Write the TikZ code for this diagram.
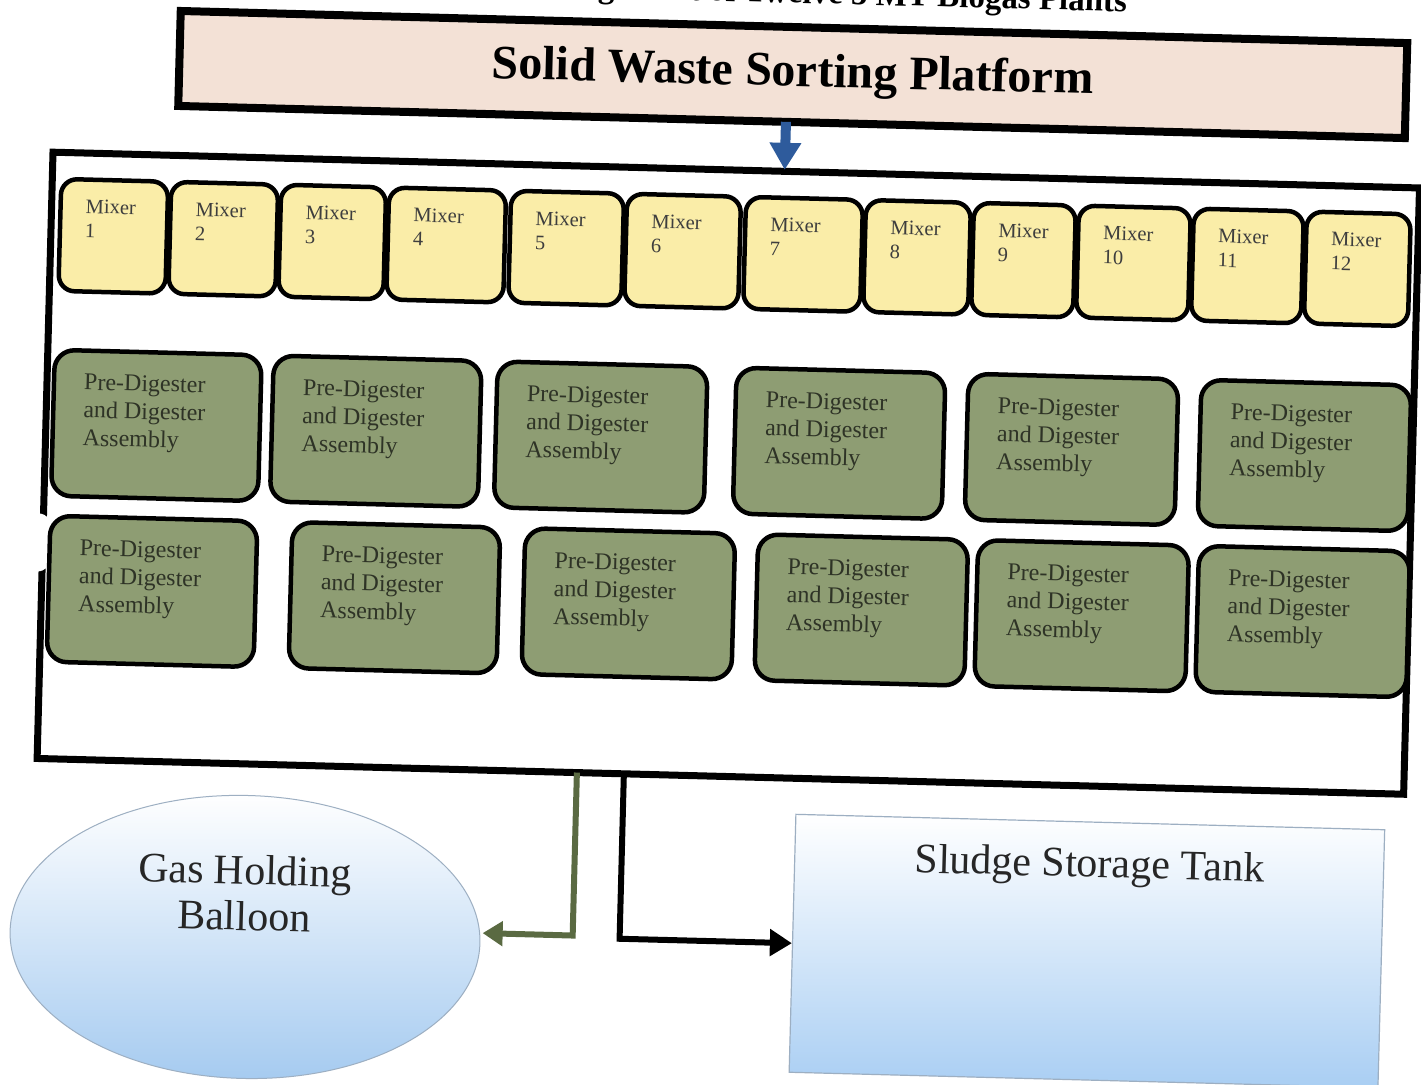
\documentclass[tikz,border=0pt]{standalone}
\usepackage{fontspec}
\setmainfont{Liberation Serif}
\usetikzlibrary{arrows.meta,shapes.geometric}
\definecolor{platfill}{HTML}{F3E1D6}
\definecolor{mixfill}{HTML}{FAEDA8}
\definecolor{mixtext}{HTML}{3E3E3E}
\definecolor{pdfill}{HTML}{8E9D73}
\definecolor{pdtext}{HTML}{2E3326}
\definecolor{arrblue}{HTML}{2E5B9C}
\definecolor{arrgreen}{HTML}{5A6A42}
\definecolor{ballblue}{HTML}{A6CBF0}
\definecolor{ballmid}{HTML}{E4EEF8}
\definecolor{tankblue}{HTML}{A9CEF3}
\definecolor{edgegray}{HTML}{9DAFC2}
\begin{document}
\begin{tikzpicture}[x=1pt,y=-1pt,
  frame/.style={draw=black, line width=7pt, inner sep=0pt},
  platform/.style={draw=black, line width=8pt, fill=platfill, inner sep=0pt,
    font=\fontsize{48}{56}\selectfont\bfseries},
  mixer/.style={draw=black, line width=4.5pt, fill=mixfill, rounded corners=16pt, inner sep=0pt},
  mixtxt/.style={font=\fontsize{20.5}{24}\selectfont, text=mixtext, align=left, anchor=north west, inner sep=0pt},
  pdbox/.style={draw=black, line width=4.5pt, fill=pdfill, rounded corners=20pt, inner sep=0pt},
  pdtxt/.style={font=\fontsize{24}{28}\selectfont, text=pdtext, align=left, anchor=north west, inner sep=0pt},
  bigtxt/.style={font=\fontsize{42}{46}\selectfont, text=black!85, align=center, inner sep=0pt},
  bluearr/.style={draw=arrblue, line width=10pt, -{Triangle[width=30pt,length=27pt]}},
  greenarr/.style={draw=arrgreen, line width=6pt, line join=miter, -{Triangle[width=24pt,length=20pt]}},
  blackarr/.style={draw=black, line width=6pt, line join=miter, -{Triangle[width=26pt,length=22pt]}}
]
\useasboundingbox (0,0) rectangle (1421,1084);
\clip (0,0) rectangle (1421,1084);
\fill[white] (0,0) rectangle (1421,1084);
\begin{scope}[rotate around={-1.5:(710,542)}, transform shape]
  % page title (cut off at the top)
  \node[font=\fontsize{33}{40}\selectfont\bfseries, anchor=base east, inner sep=0pt] (ttl) at (1113,1)
    {Arrangement of Twelve 5 MT Biogas Plants};
  % platform
  \node[platform, minimum width=1227, minimum height=95] (plat) at (780.5,72.5) {Solid Waste Sorting Platform};
  % container
  \node[frame, minimum width=1367, minimum height=606.5] (cont) at (726.5,472.75) {};
  \fill[white, rounded corners=14pt] (12,531) rectangle (52,589);
  % arrow platform -> container
  \coordinate (a1) at (775,120);
  \coordinate (a2) at (775,168);
  \draw[bluearr] (a1) -- (a2);
  % mixers
  \foreach \i/\l/\r in {1/52/159, 2/162/269, 3/272/377, 4/380/497, 5/502/615, 6/618/732,
                        7/737/854, 8/857/962, 9/965/1067, 10/1070/1182, 11/1185/1295, 12/1298/1402}{
    \node[mixer, minimum width={\r-\l}, minimum height=112] (m\i) at ({(\l+\r)/2},252) {};
    \node[mixtxt] (mt\i) at (\l+25,216) {Mixer\\\i};
  }
  % pre-digester and digester assemblies, row 1
  \foreach \i/\l/\r in {1/50/257, 2/269/477, 3/493/703, 4/732/941, 5/964/1174, 6/1197/1407}{
    \node[pdbox, minimum width={\r-\l}, minimum height=146] (pa\i) at ({(\l+\r)/2},440) {};
    \node[pdtxt] (pat\i) at (\l+30,390) {Pre-Digester\\and Digester\\Assembly};
  }
  % row 2
  \foreach \i/\l/\r in {1/50/257, 2/292/500, 3/525/735, 4/758/968, 5/978/1189, 6/1199/1410}{
    \node[pdbox, minimum width={\r-\l}, minimum height=146] (pb\i) at ({(\l+\r)/2},606) {};
    \node[pdtxt] (pbt\i) at (\l+30,556) {Pre-Digester\\and Digester\\Assembly};
  }
  % gas holding balloon
  \node[ellipse, draw=edgegray, line width=1pt, minimum width=470, minimum height=283, inner sep=0pt,
        top color=white, middle color=ballmid, bottom color=ballblue] (ball) at (255.5,949) {};
  \node[bigtxt] (balltxt) at (254,905) {Gas Holding\\Balloon};
  % sludge storage tank
  \node[draw=edgegray, line width=1.2pt, minimum width=589, minimum height=258, inner sep=0pt,
        top color=white, middle color=ballmid, bottom color=tankblue] (tank) at (1097.5,941) {};
  \node[bigtxt, anchor=base] (tanktxt) at (1098,867) {Sludge Storage Tank};
  % outlets
  \coordinate (g1) at (583,776);
  \coordinate (g2) at (493,939);
  \draw[greenarr] (g1) -- (583,939) -- (g2);
  \coordinate (k1) at (630,776);
  \draw[blackarr] (k1) -- (630,941) -- (tank.west);
\end{scope}
\end{tikzpicture}
\end{document}
